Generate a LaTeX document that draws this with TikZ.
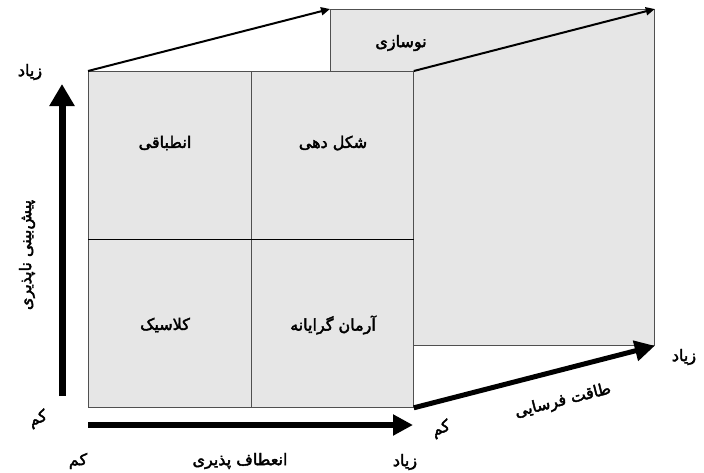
\documentclass[tikz,border=0pt]{standalone}
\usepackage{fontspec}
\newfontfamily\farsifont[Script=Arabic,FakeBold=2.5]{DejaVu Sans}
\TeXXeTstate=1
\usetikzlibrary{arrows.meta}
\usetikzlibrary{positioning}
\definecolor{boxgray}{RGB}{230,230,230}
\definecolor{edgegray}{RGB}{80,80,80}
\newcommand{\fatext}[1]{\beginR #1\endR}
\tikzset{
  lbl/.style={font=\farsifont\fontsize{16}{18}\selectfont,inner sep=0pt},
  cell/.style={draw=edgegray,fill=boxgray,line width=0.8pt,inner sep=0pt,
    minimum width=162.5pt,minimum height=168pt,anchor=north west},
}
\begin{document}
\begin{tikzpicture}[x=1pt,y=-1pt]
		  \useasboundingbox (0,0) rectangle (704,472);
		  \tikzset{
			thinarrow/.style={line width=2pt,-{Triangle[length=9pt,width=8pt]}},
			fatarrow/.style args={#1}{line width=#1,-{Triangle[length=20pt,width=20pt]}},
		  }
		  %BACK FACE
		  \node[cell,minimum width=324pt,minimum height=336pt] (back) at (330,9) {};
		  %FRONT FACE
		  \node[cell] (TL) at (88,71) {};
		  \node[cell] (TR) at (250.5,71) {};
		  \node[cell] (BL) at (88,239) {};
		  \node[cell] (BR) at (250.5,239) {};
		  \draw[black,line width=0.8pt] (TL.south west) -- (TR.south east);
		  %DEPTH EDGES
		  \draw[thinarrow] (TL.north west) -- (back.north west);
		  \draw[thinarrow] (TR.north east) -- (back.north east);
		  \draw[fatarrow={5pt}] (BR.south east) -- (back.south east);
		  %AXIS Y
		  \coordinate (ybot) at (62,396);
		  \coordinate (ytop) at (62,84);
		  \draw[line width=7pt,-{Triangle[length=22pt,width=24pt]}] (ybot) -- (ytop);
		  %AXIS X
		  \coordinate (xleft) at (88,425);
		  \coordinate (xright) at (413,425);
		  \draw[fatarrow={6pt}] (xleft) -- (xright);
		  %CELL LABELS
		  \node[lbl] (adapt) at (165,143) {\fatext{انطباقی}};
		  \node[lbl] (shape) at (333,143) {\fatext{شکل دهی}};
		  \node[lbl] (classic) at (165,325) {\fatext{کلاسیک}};
		  \node[lbl] (ideal) at (333,325) {\fatext{آرمان گرایانه}};
		  \node[lbl] (renew) at (401,43) {\fatext{نوسازی}};
		  %AXIS LABELS
		  \node[lbl] (ymax) at (30,72) {\fatext{زیاد}};
		  \node[lbl,rotate=20] (ymin) at (38,419) {\fatext{کم}};
		  \node[lbl,rotate=90] (ylab) at (27,255) {\fatext{پیش‌بینی ناپذیری}};
		  \node[lbl] (xmin) at (78,461) {\fatext{کم}};
		  \node[lbl] (xlab) at (240,461) {\fatext{انعطاف پذیری}};
		  \node[lbl] (xmax) at (405,462) {\fatext{زیاد}};
		  \node[lbl,rotate=20] (zmin) at (441,429) {\fatext{کم}};
		  \node[lbl,rotate=14] (zlab) at (563,401) {\fatext{طاقت فرسایی}};
		  \node[lbl] (zmax) at (684,357) {\fatext{زیاد}};
		  \end{tikzpicture}
\end{document}
